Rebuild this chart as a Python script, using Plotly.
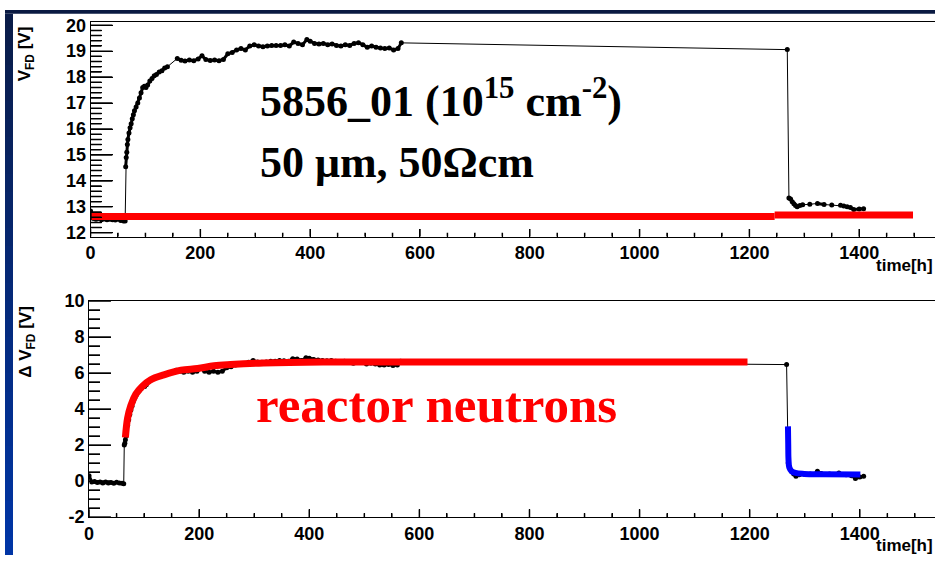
import plotly.graph_objects as go

# ---------------- data ----------------
# top panel: full depletion voltage V_FD [V] vs time [h]
t_top = [0, 5, 10, 15, 20, 25, 30, 35, 40, 45, 50, 55, 60, 63,
         64, 65, 66, 67, 68, 70, 72, 74, 76, 78, 80, 83, 86, 89, 92, 95, 98, 101, 104, 108,
         112, 116, 120, 125, 130, 135, 140,
         158, 165, 172, 180, 188, 196, 203, 210, 218, 226, 234, 242, 250, 258, 266, 274,
         282, 290, 298, 306, 314, 322, 330, 338, 346, 354, 362, 370, 378, 386, 394, 400,
         408, 416, 424, 432, 440, 448, 456, 464, 472, 480, 488, 496, 504, 512, 520, 528,
         536, 544, 552, 560, 566,
         1269, 1272, 1275, 1278, 1281, 1284, 1287, 1292, 1297, 1310, 1324, 1336, 1350,
         1366, 1372, 1378, 1384, 1390, 1400, 1408]
v_top = [12.84, 12.55, 12.52, 12.55, 12.50, 12.53, 12.50, 12.52, 12.50, 12.49, 12.52, 12.47, 12.45, 12.45,
         14.55, 14.9, 15.1, 15.4, 15.6, 15.85, 16.05, 16.2, 16.4, 16.55, 16.7, 16.85, 17.0, 17.2, 17.4, 17.6, 17.65, 17.6, 17.7, 17.85,
         17.95, 18.05, 18.1, 18.2, 18.25, 18.35, 18.4,
         18.72, 18.65, 18.62, 18.66, 18.63, 18.7, 18.82, 18.68, 18.64, 18.66, 18.63, 18.68, 18.9, 18.95, 19.05, 19.1,
         19.05, 19.2, 19.25, 19.2, 19.17, 19.2, 19.22, 19.22, 19.22, 19.25, 19.2, 19.35, 19.3, 19.25, 19.45, 19.38,
         19.3, 19.28, 19.3, 19.25, 19.28, 19.22, 19.2, 19.25, 19.22, 19.3, 19.32, 19.25, 19.15, 19.2, 19.15, 19.12,
         19.1, 19.12, 19.05, 19.1, 19.32,
         19.06, 13.34, 13.3, 13.2, 13.12, 13.05, 13.0, 13.05, 13.08, 13.1, 13.13, 13.09, 13.07,
         13.06, 13.03, 13.0, 12.97, 12.9, 12.92, 12.93]

# top panel: red reference level
ref_t1 = [2, 1246]
ref_v1 = [12.63, 12.63]
ref_t2 = [1246, 1498]
ref_v2 = [12.69, 12.69]

# bottom panel: Delta V_FD [V]
t_bot = [0, 5, 10, 15, 20, 25, 30, 35, 40, 45, 50, 55, 60, 63,
         64, 65, 66, 67, 68, 70, 72, 74, 76, 78, 80, 83, 86, 89, 92, 95, 98, 101, 104, 108,
         112, 116, 120, 125, 130, 135, 140,
         158, 165, 172, 180, 188, 196, 203, 210, 218, 226, 234, 242, 250, 258, 266, 274,
         282, 290, 298, 306, 314, 322, 330, 338, 346, 354, 362, 370, 378, 386, 394, 400,
         408, 416, 424, 432, 440, 448, 456, 464, 472, 480, 488, 496, 504, 512, 520, 528,
         536, 544, 552, 560, 566,
         1267, 1270, 1272, 1276, 1280, 1284, 1290, 1300, 1310, 1323, 1330, 1345, 1362,
         1375, 1385, 1392, 1400, 1407]
dv_bot = [0.30, -0.05, -0.02, -0.08, -0.05, -0.10, -0.05, -0.10, -0.08, -0.12, -0.07, -0.10, -0.12, -0.15,
          2.0, 2.1, 2.3, 2.5, 2.8, 3.1, 3.4, 3.7, 3.95, 4.15, 4.4, 4.6, 4.8, 4.95, 5.05, 5.15, 5.3, 5.25, 5.35, 5.5,
          5.6, 5.7, 5.72, 5.8, 5.85, 5.92, 5.95,
          6.15, 6.1, 6.05, 6.1, 6.05, 6.1, 6.25, 6.1, 6.05, 6.1, 6.05, 6.1, 6.3, 6.35, 6.45, 6.5,
          6.5, 6.6, 6.7, 6.62, 6.6, 6.62, 6.65, 6.65, 6.7, 6.68, 6.65, 6.8, 6.78, 6.7, 6.85, 6.82,
          6.75, 6.72, 6.7, 6.68, 6.7, 6.65, 6.62, 6.66, 6.6, 6.55, 6.62, 6.6, 6.5, 6.55, 6.5, 6.45,
          6.45, 6.48, 6.42, 6.45, 6.65,
          6.47, 1.0, 0.8, 0.55, 0.4, 0.27, 0.35, 0.38, 0.4, 0.55, 0.42, 0.4, 0.45,
          0.35, 0.3, 0.15, 0.22, 0.27]

# bottom panel: red fit (reactor neutrons)
fit_t = [66, 70, 76, 85, 97, 112, 136, 167, 197, 227, 257, 317, 425, 700, 1196]
fit_v = [2.42, 3.49, 4.2, 4.83, 5.27, 5.63, 5.9, 6.16, 6.25, 6.4, 6.47, 6.56, 6.62, 6.62, 6.62]

# bottom panel: blue fit (after second step)
blue_t = [1269.5, 1270, 1270.5, 1272, 1276, 1283, 1299, 1335, 1401]
blue_v = [3.04, 2.0, 1.2, 0.75, 0.55, 0.45, 0.40, 0.38, 0.36]

# tick values / labels
x_ticks = [0, 200, 400, 600, 800, 1000, 1200, 1400]
y_top_ticks = [12, 13, 14, 15, 16, 17, 18, 19, 20]
y_bot_ticks = [-2, 0, 2, 4, 6, 8, 10]

# ---------------- layout helpers ----------------
W, H = 935, 565

TOP = dict(x0=86, y0=12.3, y1=235, xr=[0, (W - 86) / 0.552], yr=[11.85, 20.13])
BOT = dict(x0=84.5, y0=301.7, y1=525.7, xr=[0, (W - 84.5) / 0.5535], yr=[-2, 10])


def px_x(p):
    return p / W


def px_y(p):
    return 1 - p / H


def bold(vals):
    return ["<b>%g</b>" % v for v in vals]


def dense(t, v, gap=12, jump=1.0):
    """copy of series with breaks where measurements are sparse or jump"""
    xs, ys = [], []
    for i in range(len(t)):
        if i > 0 and (t[i] - t[i - 1] > gap or abs(v[i] - v[i - 1]) > jump):
            xs.append(None)
            ys.append(None)
        xs.append(t[i])
        ys.append(v[i])
    return xs, ys


def frange(a, b, step):
    out, k = [], 0
    while a + k * step <= b + 1e-9:
        out.append(round(a + k * step, 6))
        k += 1
    return out


def tick_traces(g, xmaj, ymaj, xminor_step, yminor_step, xa, ya):
    """ROOT-style inside tick marks, in data units of the axes"""
    xr, yr = g["xr"], g["yr"]
    ux = (xr[1] - xr[0]) / (W - g["x0"])
    uy = (yr[1] - yr[0]) / (g["y1"] - g["y0"])
    xs, ys = [], []
    for v in xmaj:
        xs += [v, v, None]
        ys += [yr[0], yr[0] + 8 * uy, None]
    for v in frange(xr[0], xr[1], xminor_step):
        if v not in xmaj:
            xs += [v, v, None]
            ys += [yr[0], yr[0] + 4 * uy, None]
    for v in ymaj:
        xs += [xr[0], xr[0] + 22 * ux, None]
        ys += [v, v, None]
    for v in frange(ymaj[0], ymaj[-1], yminor_step):
        if v not in ymaj:
            xs += [xr[0], xr[0] + 11 * ux, None]
            ys += [v, v, None]
    return go.Scatter(x=xs, y=ys, mode="lines", line=dict(color="black", width=1.5),
                      xaxis=xa, yaxis=ya, hoverinfo="skip")


fig = go.Figure()

# slide background: left gradient strip and top dark band (decoration subplots)
n = 30
fig.add_trace(go.Heatmap(z=[[i] for i in range(n)], x=[0], y=list(range(n)),
                         colorscale=[[0, "rgb(0,53,165)"], [1, "rgb(10,28,72)"]],
                         showscale=False, hoverinfo="skip", xaxis="x3", yaxis="y3"))
fig.add_trace(go.Heatmap(z=[[0, 1]], x=[0, 1], y=[0],
                         colorscale=[[0, "rgb(10,26,66)"], [1, "rgb(10,26,66)"]],
                         showscale=False, hoverinfo="skip", xaxis="x4", yaxis="y4"))

# top panel
fig.add_trace(go.Scatter(x=t_top, y=v_top, mode="lines", line=dict(color="black", width=1),
                         xaxis="x", yaxis="y"))
dx, dy = dense(t_top, v_top)
fig.add_trace(go.Scatter(x=dx, y=dy, mode="lines", line=dict(color="black", width=3),
                         xaxis="x", yaxis="y", connectgaps=False))
fig.add_trace(go.Scatter(x=t_top, y=v_top, mode="markers", marker=dict(color="black", size=5),
                         xaxis="x", yaxis="y"))
fig.add_trace(go.Scatter(x=ref_t1, y=ref_v1, mode="lines", line=dict(color="#ff0000", width=7),
                         xaxis="x", yaxis="y"))
fig.add_trace(go.Scatter(x=ref_t2, y=ref_v2, mode="lines", line=dict(color="#ff0000", width=7),
                         xaxis="x", yaxis="y"))

# bottom panel
fig.add_trace(go.Scatter(x=t_bot, y=dv_bot, mode="lines", line=dict(color="black", width=1),
                         xaxis="x2", yaxis="y2"))
bx, by = dense(t_bot, dv_bot)
fig.add_trace(go.Scatter(x=bx, y=by, mode="lines", line=dict(color="black", width=3),
                         xaxis="x2", yaxis="y2", connectgaps=False))
fig.add_trace(go.Scatter(x=t_bot, y=dv_bot, mode="markers", marker=dict(color="black", size=5),
                         xaxis="x2", yaxis="y2"))
fig.add_trace(go.Scatter(x=fit_t, y=fit_v, mode="lines", line=dict(color="#ff0000", width=7, shape="spline"),
                         xaxis="x2", yaxis="y2"))
fig.add_trace(go.Scatter(x=blue_t, y=blue_v, mode="lines", line=dict(color="#0000ff", width=6, shape="spline"),
                         xaxis="x2", yaxis="y2"))

# axis tick marks (drawn last so nothing covers them)
fig.add_trace(tick_traces(TOP, x_ticks, y_top_ticks, 50, 0.2, "x", "y"))
fig.add_trace(tick_traces(BOT, x_ticks, y_bot_ticks, 50, 0.5, "x2", "y2"))

xcommon = dict(tickmode="array", tickvals=x_ticks, ticktext=bold(x_ticks),
               ticks="inside", ticklen=8, tickcolor="black",
               minor=dict(dtick=50, ticks="inside", ticklen=4),
               showline=True, linecolor="black", mirror=True, showgrid=False, zeroline=False)
ycommon = dict(ticks="inside", ticklen=22, tickcolor="black",
               showline=True, linecolor="black", showgrid=False, zeroline=False)
hidden = dict(visible=False, fixedrange=True, showgrid=False, zeroline=False)

fig.update_layout(
    width=W, height=H,
    margin=dict(l=0, r=0, t=0, b=0),
    paper_bgcolor="white", plot_bgcolor="white",
    showlegend=False,
    font=dict(family="Liberation Sans, Arial, sans-serif", size=18, color="black"),
    xaxis=dict(domain=[px_x(TOP["x0"]), 1], range=TOP["xr"], anchor="y", **xcommon),
    yaxis=dict(domain=[px_y(TOP["y1"]), px_y(TOP["y0"])], range=TOP["yr"], anchor="x",
               tickmode="array", tickvals=y_top_ticks, ticktext=bold(y_top_ticks),
               minor=dict(dtick=0.2, ticks="inside", ticklen=11), **ycommon),
    xaxis2=dict(domain=[px_x(BOT["x0"]), 1], range=BOT["xr"], anchor="y2", **xcommon),
    yaxis2=dict(domain=[px_y(BOT["y1"]), px_y(BOT["y0"])], range=BOT["yr"], anchor="x2",
                tickmode="array", tickvals=y_bot_ticks, ticktext=bold(y_bot_ticks),
                minor=dict(dtick=0.5, ticks="inside", ticklen=11), **ycommon),
    xaxis3=dict(domain=[0, px_x(8)], anchor="y3", **hidden),
    yaxis3=dict(domain=[0, 1], anchor="x3", **hidden),
    xaxis4=dict(domain=[0, 1], anchor="y4", **hidden),
    yaxis4=dict(domain=[px_y(4), 1], anchor="x4", **hidden),
)

axfont = dict(family="Liberation Sans, Arial, sans-serif", size=17, color="black")
serif = "Liberation Serif, Times New Roman, serif"
annos = [
    dict(text="<b>V<sub>FD</sub> [V]</b>", x=px_x(22), y=px_y(45), textangle=-90, font=axfont),
    dict(text="<b>Δ V<sub>FD</sub> [V]</b>", x=px_x(22), y=px_y(344), textangle=-90, font=axfont),
    dict(text="<b>time[h]</b>", x=px_x(874), y=px_y(265), xanchor="left", font=axfont),
    dict(text="<b>time[h]</b>", x=px_x(874), y=px_y(555), xanchor="left", font=axfont),
    dict(text="<b>5856_01 (10<sup>15</sup> cm<sup>-2</sup>)</b>", x=px_x(254), y=px_y(92), xanchor="left",
         font=dict(family=serif, size=44, color="black")),
    dict(text="<b>50 μm, 50Ωcm</b>", x=px_x(254), y=px_y(158), xanchor="left",
         font=dict(family=serif, size=44, color="black")),
    dict(text="<b>reactor neutrons</b>", x=px_x(250), y=px_y(410), xanchor="left",
         font=dict(family=serif, size=51, color="#ff0000")),
]
for a in annos:
    a.update(xref="paper", yref="paper", showarrow=False)
    a.setdefault("xanchor", "center")
    a.setdefault("yanchor", "middle")
fig.update_layout(annotations=annos)

fig.write_html("out.html")
